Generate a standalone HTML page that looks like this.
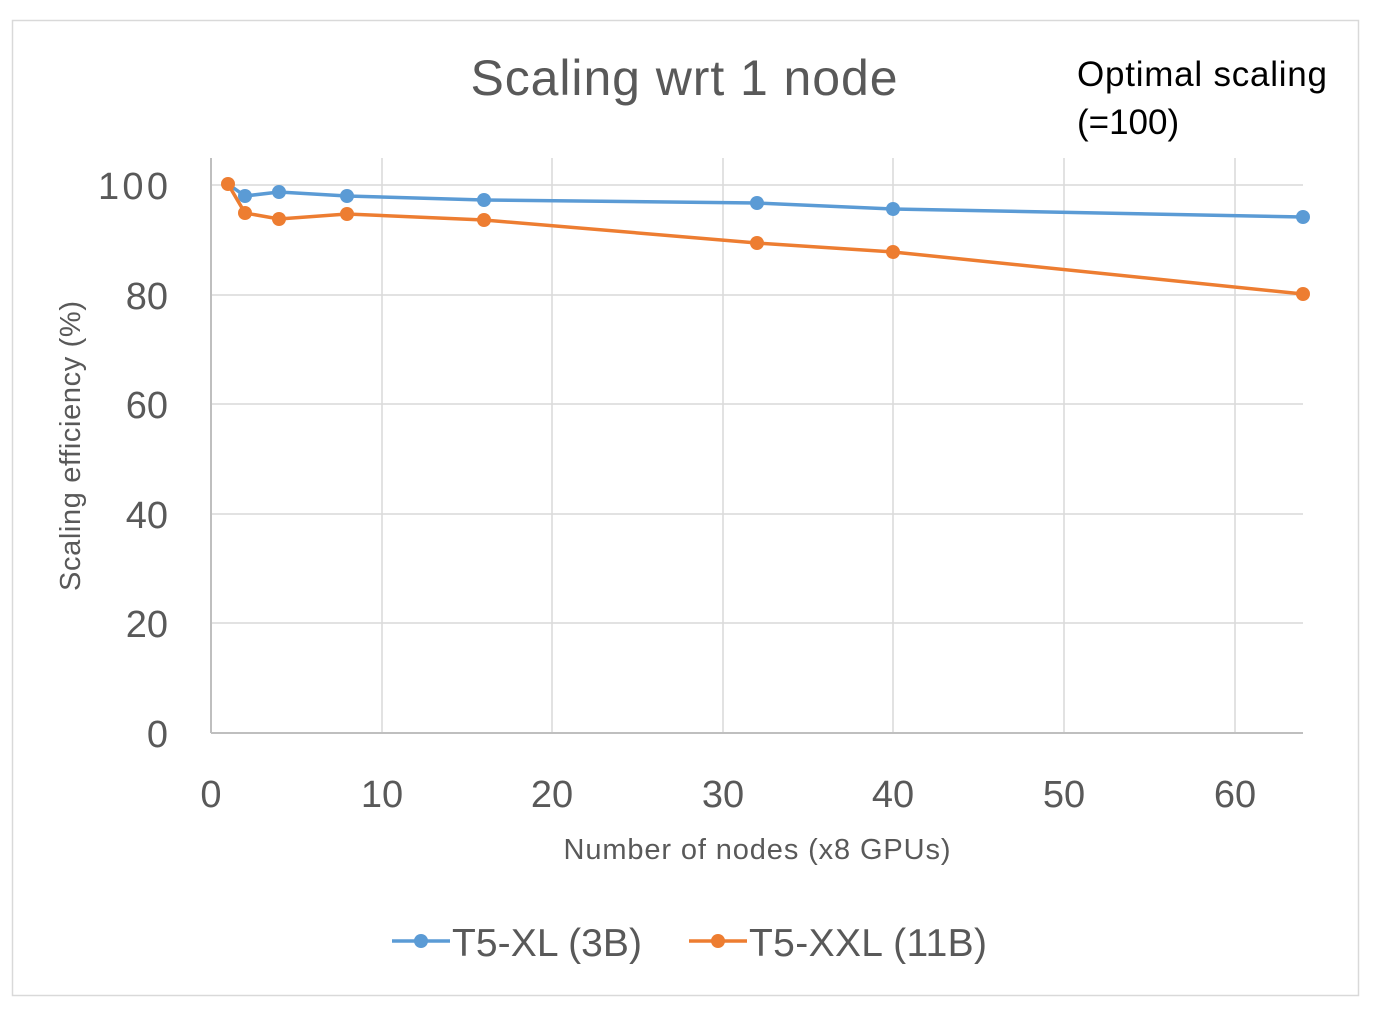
<!DOCTYPE html>
<html><head><style>
html,body{margin:0;padding:0;background:#fff;}
svg{display:block;font-family:"Liberation Sans",sans-serif;}
</style></head><body>
<svg width="1384" height="1023" viewBox="0 0 1384 1023">
<rect x="12.5" y="20.5" width="1346" height="975" fill="#fff" stroke="#d9d9d9" stroke-width="1.5"/>
<g stroke="#d9d9d9" stroke-width="1.5">
<line x1="211" y1="185" x2="1303" y2="185"/>
<line x1="211" y1="295" x2="1303" y2="295"/>
<line x1="211" y1="404" x2="1303" y2="404"/>
<line x1="211" y1="514" x2="1303" y2="514"/>
<line x1="211" y1="623" x2="1303" y2="623"/>
<line x1="382" y1="158" x2="382" y2="733"/>
<line x1="552" y1="158" x2="552" y2="733"/>
<line x1="723" y1="158" x2="723" y2="733"/>
<line x1="893" y1="158" x2="893" y2="733"/>
<line x1="1064" y1="158" x2="1064" y2="733"/>
<line x1="1235" y1="158" x2="1235" y2="733"/>
</g>
<g stroke="#bfbfbf" stroke-width="2">
<line x1="211" y1="158" x2="211" y2="733"/>
<line x1="211" y1="733" x2="1303" y2="733"/>
</g>
<polyline fill="none" stroke="#5b9bd5" stroke-width="3.5" points="228,184 245,196 279,192 347,196 484,200 757,203 893,209 1303,217"/>
<g fill="#5b9bd5">
<circle cx="245" cy="196" r="7"/><circle cx="279" cy="192" r="7"/><circle cx="347" cy="196" r="7"/><circle cx="484" cy="200" r="7"/><circle cx="757" cy="203" r="7"/><circle cx="893" cy="209" r="7"/><circle cx="1303" cy="217" r="7"/>
</g>
<polyline fill="none" stroke="#ed7d31" stroke-width="3.5" points="228,184 245,213 279,219 347,214 484,220 757,243 893,252 1303,294"/>
<g fill="#ed7d31">
<circle cx="228" cy="184" r="7"/><circle cx="245" cy="213" r="7"/><circle cx="279" cy="219" r="7"/><circle cx="347" cy="214" r="7"/><circle cx="484" cy="220" r="7"/><circle cx="757" cy="243" r="7"/><circle cx="893" cy="252" r="7"/><circle cx="1303" cy="294" r="7"/>
</g>
<g fill="#595959" font-size="38" text-anchor="end">
<text x="168" y="199" textLength="70">100</text><text x="168" y="309">80</text><text x="168" y="418">60</text><text x="168" y="528">40</text><text x="168" y="637">20</text><text x="168" y="747">0</text>
</g>
<g fill="#595959" font-size="38" text-anchor="middle">
<text x="211" y="807">0</text><text x="382" y="807">10</text><text x="552" y="807">20</text><text x="723" y="807">30</text><text x="893" y="807">40</text><text x="1064" y="807">50</text><text x="1235" y="807">60</text>
</g>
<text x="757" y="859" fill="#595959" font-size="29" text-anchor="middle" textLength="387">Number of nodes (x8 GPUs)</text>
<text transform="translate(80,446) rotate(-90)" fill="#595959" font-size="29" text-anchor="middle" textLength="290">Scaling efficiency (%)</text>
<text x="684" y="95" fill="#595959" font-size="50" text-anchor="middle" textLength="427">Scaling wrt 1 node</text>
<text x="1077" y="86" fill="#000" font-size="35" textLength="250">Optimal scaling</text>
<text x="1077" y="134" fill="#000" font-size="35">(=100)</text>
<line x1="392" y1="941" x2="450" y2="941" stroke="#5b9bd5" stroke-width="3.5"/>
<circle cx="421" cy="941" r="7" fill="#5b9bd5"/>
<text x="452" y="956" fill="#595959" font-size="39" textLength="190">T5-XL (3B)</text>
<line x1="689" y1="941" x2="747" y2="941" stroke="#ed7d31" stroke-width="3.5"/>
<circle cx="718" cy="941" r="7" fill="#ed7d31"/>
<text x="749" y="956" fill="#595959" font-size="39" textLength="238">T5-XXL (11B)</text>
</svg>
</body></html>
